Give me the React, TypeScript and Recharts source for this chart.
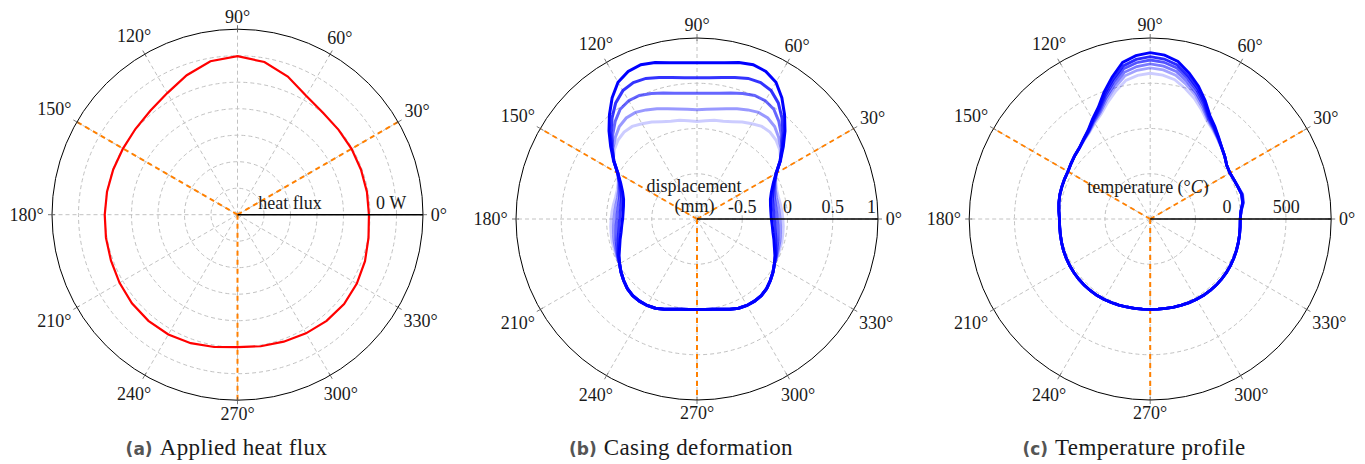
import { RadarChart, Radar, PolarGrid, PolarAngleAxis, PolarRadiusAxis } from "recharts";

const SERIF = "Liberation Serif, DejaVu Serif, serif";
const SANS = "DejaVu Sans, sans-serif";
const HEIGHT = 464;

// angle of each sample, degrees counter-clockwise from east
const anglesA = [
  0, 10, 20, 30, 40, 50, 60, 70, 80, 90, 100, 110, 120, 130, 140, 150, 160, 170,
  180, 190, 200, 210, 220, 230, 240, 250, 260, 270, 280, 290, 300, 310, 320, 330, 340, 350,
];
const anglesB = [
  0, 5, 10, 15, 20, 25, 30, 35, 40, 45, 50, 55,
  60, 65, 70, 75, 80, 85, 90, 95, 100, 105, 110, 115,
  120, 125, 130, 135, 140, 145, 150, 155, 160, 165, 170, 175,
  180, 185, 190, 195, 200, 205, 210, 215, 220, 225, 230, 235,
  240, 245, 250, 255, 260, 265, 270, 275, 280, 285, 290, 295,
  300, 305, 310, 315, 320, 325, 330, 335, 340, 345, 350, 355,
];

// (a) applied heat flux, in grid divisions
const heatFlux = [
  4.96, 4.96, 4.96, 4.97, 4.98, 5.02, 5.18, 5.55, 5.85, 5.98, 5.88, 5.6,
  5.3, 5.12, 5.03, 4.99, 4.99, 5.0, 5.01, 5.04, 5.08, 5.14, 5.2, 5.23,
  5.22, 5.16, 5.07, 5.0, 5.04, 5.1, 5.17, 5.23, 5.25, 5.2, 5.12, 5.02,
];

// (b) casing displacement (mm), darkest first
const disp1 = [
  -0.178, -0.18, -0.175, -0.16, -0.125, -0.07, 0.01, 0.125, 0.245, 0.375, 0.505, 0.635,
  0.745, 0.8, 0.815, 0.79, 0.754, 0.734, 0.727, 0.734, 0.754, 0.79, 0.815, 0.8,
  0.745, 0.635, 0.505, 0.375, 0.245, 0.125, 0.01, -0.07, -0.125, -0.16, -0.175, -0.18,
  -0.178, -0.165, -0.148, -0.12, -0.09, -0.05, -0.012, 0.025, 0.058, 0.088, 0.105, 0.108,
  0.103, 0.088, 0.062, 0.033, 0.014, 0.004, 0, 0.004, 0.014, 0.033, 0.062, 0.088,
  0.103, 0.108, 0.105, 0.088, 0.058, 0.025, -0.012, -0.05, -0.09, -0.12, -0.148, -0.165,
];
const disp2 = [
  -0.146, -0.149, -0.147, -0.137, -0.109, -0.062, 0.012, 0.12, 0.23, 0.345, 0.46, 0.566,
  0.638, 0.664, 0.653, 0.62, 0.587, 0.567, 0.561, 0.567, 0.587, 0.62, 0.653, 0.664,
  0.638, 0.566, 0.46, 0.345, 0.23, 0.12, 0.012, -0.062, -0.109, -0.137, -0.147, -0.149,
  -0.146, -0.134, -0.12, -0.097, -0.074, -0.042, -0.012, 0.025, 0.058, 0.088, 0.105, 0.108,
  0.103, 0.088, 0.062, 0.033, 0.014, 0.004, 0, 0.004, 0.014, 0.033, 0.062, 0.088,
  0.103, 0.108, 0.105, 0.088, 0.058, 0.025, -0.012, -0.042, -0.074, -0.097, -0.12, -0.134,
];
const disp3 = [
  -0.114, -0.118, -0.119, -0.114, -0.093, -0.054, 0.011, 0.123, 0.223, 0.317, 0.407, 0.48,
  0.509, 0.507, 0.476, 0.441, 0.412, 0.394, 0.389, 0.394, 0.412, 0.441, 0.476, 0.507,
  0.509, 0.48, 0.407, 0.317, 0.223, 0.123, 0.011, -0.054, -0.093, -0.114, -0.119, -0.118,
  -0.114, -0.103, -0.092, -0.074, -0.058, -0.034, -0.012, 0.025, 0.058, 0.088, 0.105, 0.108,
  0.103, 0.088, 0.062, 0.033, 0.014, 0.004, 0, 0.004, 0.014, 0.033, 0.062, 0.088,
  0.103, 0.108, 0.105, 0.088, 0.058, 0.025, -0.012, -0.034, -0.058, -0.074, -0.092, -0.103,
];
const disp4 = [
  -0.083, -0.088, -0.091, -0.092, -0.078, -0.046, 0.01, 0.124, 0.214, 0.276, 0.335, 0.363,
  0.36, 0.33, 0.295, 0.26, 0.235, 0.218, 0.208, 0.218, 0.235, 0.26, 0.295, 0.33,
  0.36, 0.363, 0.335, 0.276, 0.214, 0.124, 0.01, -0.046, -0.078, -0.092, -0.091, -0.088,
  -0.083, -0.073, -0.064, -0.052, -0.042, -0.026, -0.012, 0.025, 0.058, 0.088, 0.105, 0.108,
  0.103, 0.088, 0.062, 0.033, 0.014, 0.004, 0, 0.004, 0.014, 0.033, 0.062, 0.088,
  0.103, 0.108, 0.105, 0.088, 0.058, 0.025, -0.012, -0.026, -0.042, -0.052, -0.064, -0.073,
];
const disp5 = [
  -0.052, -0.058, -0.064, -0.069, -0.062, -0.039, 0.01, 0.13, 0.193, 0.234, 0.254, 0.249,
  0.215, 0.182, 0.145, 0.118, 0.108, 0.09, 0.078, 0.09, 0.108, 0.118, 0.145, 0.182,
  0.215, 0.249, 0.254, 0.234, 0.193, 0.13, 0.01, -0.039, -0.062, -0.069, -0.064, -0.058,
  -0.052, -0.043, -0.037, -0.029, -0.027, -0.018, -0.012, 0.025, 0.058, 0.088, 0.105, 0.108,
  0.103, 0.088, 0.062, 0.033, 0.014, 0.004, 0, 0.004, 0.014, 0.033, 0.062, 0.088,
  0.103, 0.108, 0.105, 0.088, 0.058, 0.025, -0.012, -0.018, -0.027, -0.029, -0.037, -0.043,
];

// (c) temperature (°C), darkest first; lower half (180°..355°) is shared
const tempLower = [
  117, 118, 121, 125, 130, 133, 136, 138, 139, 140, 139, 137,
  134, 129, 124, 120, 117, 115, 114, 115, 117, 121, 125, 130,
  134, 137, 139, 140, 139, 137, 134, 130, 126, 121, 117, 113,
];
const temp1 = [
  111, 120, 143, 150, 140, 132, 128, 140, 173, 206, 251, 304,
  360, 452, 544, 626, 702, 740, 756, 736, 694, 593, 491, 390,
  326, 266, 229, 198, 183, 167, 153, 149, 145, 141, 134, 125,
  ...tempLower,
];
const temp2 = [
  111, 120, 143, 150, 140, 132, 128, 140, 173, 205, 248, 297,
  350, 437, 523, 600, 672, 707, 722, 704, 664, 569, 473, 378,
  318, 262, 227, 198, 183, 167, 153, 149, 145, 141, 134, 125,
  ...tempLower,
];
const temp3 = [
  111, 121, 146, 152, 140, 132, 128, 140, 173, 205, 245, 292,
  342, 424, 506, 579, 646, 680, 694, 676, 639, 549, 458, 369,
  312, 258, 225, 198, 183, 167, 153, 149, 145, 141, 134, 125,
  ...tempLower,
];
const temp4 = [
  111, 121, 148, 156, 141, 132, 128, 140, 173, 204, 241, 285,
  332, 408, 485, 553, 616, 647, 661, 644, 609, 525, 441, 357,
  304, 254, 223, 197, 183, 167, 153, 149, 145, 141, 134, 125,
  ...tempLower,
];
const temp5 = [
  111, 122, 150, 158, 142, 132, 128, 140, 172, 203, 238, 279,
  322, 393, 464, 527, 585, 615, 627, 612, 579, 501, 423, 345,
  296, 250, 221, 197, 183, 167, 153, 149, 145, 141, 134, 125,
  ...tempLower,
];
const temp6 = [
  111, 122, 152, 160, 142, 132, 128, 140, 172, 203, 234, 270,
  309, 372, 436, 492, 545, 571, 582, 568, 539, 470, 399, 330,
  285, 244, 218, 197, 183, 167, 153, 149, 145, 141, 134, 125,
  ...tempLower,
];

// radial ticks (axis ends carry no label)
const ticksA = [0, 5.8, 7];
const tickLabelsA = ["", "0 W", ""];
const ticksB = [-1, -0.5, 0, 0.5, 1];
const tickLabelsB = ["", "-0.5", "0", "0.5", "1"];
const ticksC = [-650, 0, 500, 880];
const tickLabelsC = ["", "0", "500", ""];

const gridAngles = [0, 30, 60, 90, 120, 150, 180, 210, 240, 270, 300, 330];
const guideAngles = [30, 150, 270];

interface Series {
  key: string;
  values: number[];
  color: string;
  opacity: number;
  width: number;
}

const buildRows = (angles: number[], series: Series[]) =>
  angles.map((angle, i) => {
    const row: Record<string, number> = { angle };
    series.forEach((s) => {
      row[s.key] = s.values[i];
    });
    return row;
  });

interface PlotProps {
  left: number;
  width: number;
  cx: number;
  cy: number;
  radius: number;
  angles: number[];
  series: Series[];
  domain: [number, number];
  radialTicks: number[];
  radialTickLabels: string[];
  rings: number[];
}

const PolarPlot = ({
  left,
  width,
  cx,
  cy,
  radius,
  angles,
  series,
  domain,
  radialTicks,
  radialTickLabels,
  rings,
}: PlotProps) => {
  const data = buildRows(angles, series);

  const angleTick = (props: any) => {
    const a = Number(props.payload?.value);
    if (a % 30 !== 0 || a >= 360) return <g />;
    const rad = (a * Math.PI) / 180;
    const c = Math.cos(rad);
    const s = Math.sin(rad);
    const label = `${a}°`;
    const halfW = label.length * 4.8 - 0.8;
    const off = radius + 7 + halfW * Math.abs(c) + 6 * Math.abs(s);
    return (
      <g>
        <line
          x1={cx + (radius - 3) * c}
          y1={cy - (radius - 3) * s}
          x2={cx + (radius + 4) * c}
          y2={cy - (radius + 4) * s}
          stroke="#555"
          strokeWidth={0.8}
        />
        <text
          x={cx + off * c}
          y={cy - off * s}
          dy="0.35em"
          textAnchor="middle"
          fontSize={18}
          fill="#1a1a1a"
          style={{ fontFamily: SERIF }}
        >
          {label}
        </text>
      </g>
    );
  };

  const radiusTick = (props: any) => {
    const v = props.payload?.value;
    const idx = radialTicks.indexOf(v);
    if (idx < 0 || !radialTickLabels[idx]) return <g />;
    const last = v === domain[1];
    return (
      <text
        x={props.x - (last ? 2 : 0)}
        y={props.y - 6}
        textAnchor={last ? "end" : "middle"}
        fontSize={18}
        fill="#1a1a1a"
        style={{ fontFamily: SERIF }}
      >
        {radialTickLabels[idx]}
      </text>
    );
  };

  return (
    <div style={{ position: "absolute", left, top: 0 }}>
      <RadarChart
        width={width}
        height={HEIGHT}
        data={data}
        cx={cx}
        cy={cy}
        innerRadius={0}
        outerRadius={radius}
        startAngle={0}
        endAngle={360}
        margin={{ top: 0, right: 0, bottom: 0, left: 0 }}
      >
        <PolarGrid
          gridType="circle"
          polarAngles={gridAngles}
          polarRadius={rings}
          stroke="#c2c2c2"
          strokeWidth={1}
          strokeDasharray="4 3"
        />
        <PolarAngleAxis
          dataKey="angle"
          type="number"
          domain={[0, 360]}
          tickCount={13}
          axisLineType="circle"
          axisLine={{ stroke: "#000", strokeWidth: 1 }}
          tickLine={false}
          tick={angleTick}
        />
        <PolarRadiusAxis
          angle={0}
          type="number"
          domain={domain}
          ticks={radialTicks}
          tick={radiusTick}
          axisLine={{ stroke: "#000", strokeWidth: 1.4 }}
          tickLine={false}
          allowDataOverflow
        />
        {series.map((s) => (
          <Radar
            key={s.key}
            dataKey={s.key}
            stroke={s.color}
            strokeOpacity={s.opacity}
            strokeWidth={s.width}
            fill="none"
            fillOpacity={0}
            dot={false}
            isAnimationActive={false}
          />
        ))}
        <PolarGrid
          gridType="circle"
          polarAngles={guideAngles}
          polarRadius={[]}
          stroke="#ff8000"
          strokeWidth={2}
          strokeDasharray="5 4"
        />
      </RadarChart>
    </div>
  );
};

const heatSeries: Series[] = [
  { key: "flux", values: heatFlux, color: "#ff0000", opacity: 1, width: 2.2 },
];
const dispSeries: Series[] = [
  { key: "d5", values: disp5, color: "#0000ff", opacity: 0.2, width: 3 },
  { key: "d4", values: disp4, color: "#0000ff", opacity: 0.4, width: 3 },
  { key: "d3", values: disp3, color: "#0000ff", opacity: 0.6, width: 3 },
  { key: "d2", values: disp2, color: "#0000ff", opacity: 0.8, width: 3 },
  { key: "d1", values: disp1, color: "#0000ff", opacity: 1, width: 3 },
];
const tempSeries: Series[] = [
  { key: "t6", values: temp6, color: "#0000ff", opacity: 0.2, width: 2.8 },
  { key: "t5", values: temp5, color: "#0000ff", opacity: 0.36, width: 2.8 },
  { key: "t4", values: temp4, color: "#0000ff", opacity: 0.52, width: 2.8 },
  { key: "t3", values: temp3, color: "#0000ff", opacity: 0.68, width: 2.8 },
  { key: "t2", values: temp2, color: "#0000ff", opacity: 0.84, width: 2.8 },
  { key: "t1", values: temp1, color: "#0000ff", opacity: 1, width: 2.8 },
];

const RA = 185.5;
const RB = 181;

const Caption = ({ x, tag, text }: { x: number; tag: string; text: string }) => (
  <text x={x} y={455} textAnchor="middle">
    <tspan fontWeight="bold" fontSize={17} fill="#555" style={{ fontFamily: SANS }}>
      {tag}
    </tspan>
    <tspan
      fontSize={23}
      fill="#1a1a1a"
      dx={7}
      letterSpacing={0.4}
      style={{ fontFamily: SERIF }}
    >
      {text}
    </tspan>
  </text>
);

export default function App() {
  return (
    <div
      style={{
        position: "absolute",
        left: 0,
        top: 0,
        width: 1365,
        height: HEIGHT,
        background: "#fff",
        overflow: "hidden",
      }}
    >
      <PolarPlot
        left={0}
        width={465}
        cx={237.5}
        cy={214.7}
        radius={RA}
        angles={anglesA}
        series={heatSeries}
        domain={[0, 7]}
        radialTicks={ticksA}
        radialTickLabels={tickLabelsA}
        rings={[1, 2, 3, 4, 5, 6].map((k) => (k * RA) / 7)}
      />
      <PolarPlot
        left={470}
        width={455}
        cx={227}
        cy={219}
        radius={RB}
        angles={anglesB}
        series={dispSeries}
        domain={[-1, 1]}
        radialTicks={ticksB}
        radialTickLabels={tickLabelsB}
        rings={[RB / 4, RB / 2, (3 * RB) / 4]}
      />
      <PolarPlot
        left={925}
        width={440}
        cx={225.2}
        cy={219}
        radius={RB}
        angles={anglesB}
        series={tempSeries}
        domain={[-650, 880]}
        radialTicks={ticksC}
        radialTickLabels={tickLabelsC}
        rings={[RB / 4, RB / 2, (3 * RB) / 4]}
      />
      <svg
        width={1365}
        height={HEIGHT}
        style={{ position: "absolute", left: 0, top: 0, pointerEvents: "none" }}
      >
        <g fontSize={18} fill="#1a1a1a" textAnchor="middle" style={{ fontFamily: SERIF }}>
          <text x={290} y={208.5}>heat flux</text>
          <text x={694} y={191.5}>displacement</text>
          <text x={694.5} y={212}>(mm)</text>
          <text x={1148} y={193}>
            temperature (°<tspan fontStyle="italic">C</tspan>)
          </text>
        </g>
        <Caption x={226.5} tag="(a)" text="Applied heat flux" />
        <Caption x={681} tag="(b)" text="Casing deformation" />
        <Caption x={1134} tag="(c)" text="Temperature profile" />
      </svg>
    </div>
  );
}
